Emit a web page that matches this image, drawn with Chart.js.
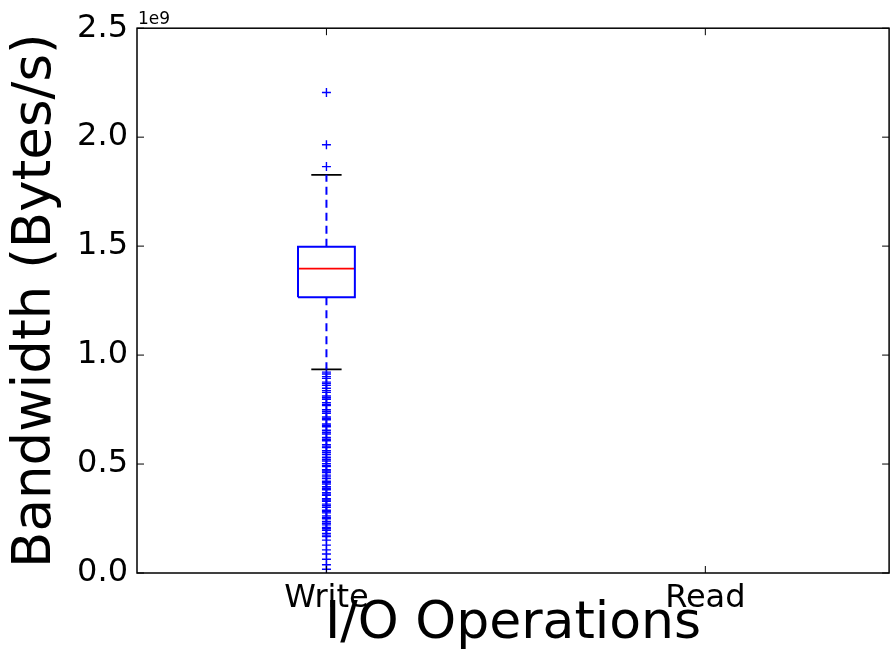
<!DOCTYPE html>
<html>
<head>
<meta charset="utf-8">
<script src="https://cdn.jsdelivr.net/npm/chart.js@4.4.1/dist/chart.umd.min.js"></script>
<style>
  html, body { margin: 0; padding: 0; background: #fff; }
  #wrap { width: 895px; height: 666px; }
</style>
</head>
<body>
<div id="wrap"><canvas id="boxChart"></canvas></div>
<script>
// categories and box statistics (Bytes/s)
const categories = ['Write', 'Read'];
const quartile1 = [1.265e9, null];
const medians = [1.397e9, null];
const quartile3 = [1.497e9, null];
const whiskerLow = [0.934e9, null];
const whiskerHigh = [1.827e9, null];
const writeOutliers = [
    2.205e9, 1.965e9, 1.865e9,
    0.922e9, 0.913e9, 0.901e9, 0.893e9, 0.876e9, 0.869e9, 0.861e9, 0.848e9, 0.837e9, 0.829e9,
    0.812e9, 0.804e9, 0.797e9, 0.781e9, 0.772e9, 0.768e9, 0.749e9, 0.741e9, 0.733e9, 0.716e9,
    0.709e9, 0.703e9, 0.684e9, 0.677e9, 0.671e9, 0.655e9, 0.646e9, 0.638e9, 0.622e9, 0.614e9,
    0.607e9, 0.589e9, 0.582e9, 0.576e9, 0.561e9, 0.553e9, 0.544e9, 0.531e9, 0.522e9, 0.514e9,
    0.502e9, 0.494e9, 0.488e9, 0.474e9, 0.468e9, 0.461e9, 0.449e9, 0.441e9, 0.433e9, 0.421e9,
    0.414e9, 0.408e9, 0.396e9, 0.389e9, 0.382e9, 0.368e9, 0.362e9, 0.357e9, 0.341e9, 0.335e9,
    0.329e9, 0.316e9, 0.309e9, 0.302e9, 0.288e9, 0.282e9, 0.276e9, 0.262e9, 0.255e9, 0.249e9,
    0.236e9, 0.228e9, 0.221e9, 0.209e9, 0.203e9, 0.196e9, 0.182e9, 0.174e9, 0.167e9, 0.151e9,
    0.128e9, 0.106e9, 0.087e9, 0.063e9, 0.038e9, 0.017e9
];
const readOutliers = [];
const yTicks = [0, 0.5e9, 1.0e9, 1.5e9, 2.0e9, 2.5e9];

const boxHalf = 0.075;
const capHalf = 0.04;

function buildDatasets() {
    const sets = [];
    categories.forEach((name, i) => {
        const x = i + 1;
        if (quartile1[i] !== null) {
            sets.push({
                label: name + ' box',
                data: [
                    {x: x - boxHalf, y: quartile1[i]}, {x: x + boxHalf, y: quartile1[i]},
                    {x: x + boxHalf, y: quartile3[i]}, {x: x - boxHalf, y: quartile3[i]},
                    {x: x - boxHalf, y: quartile1[i]}
                ],
                borderColor: '#0000ff', borderWidth: 2, pointRadius: 0
            });
            sets.push({
                label: name + ' median',
                data: [{x: x - boxHalf, y: medians[i]}, {x: x + boxHalf, y: medians[i]}],
                borderColor: '#ff0000', borderWidth: 1.8, pointRadius: 0
            });
            [[quartile3[i], whiskerHigh[i]], [quartile1[i], whiskerLow[i]]].forEach(([a, b]) => {
                sets.push({
                    label: name + ' whisker',
                    data: [{x: x, y: a}, {x: x, y: b}],
                    borderColor: '#0000ff', borderWidth: 2, borderDash: [8, 5], pointRadius: 0
                });
                sets.push({
                    label: name + ' cap',
                    data: [{x: x - capHalf, y: b}, {x: x + capHalf, y: b}],
                    borderColor: '#000000', borderWidth: 1.8, pointRadius: 0
                });
            });
        }
        const fliers = i === 0 ? writeOutliers : readOutliers;
        sets.push({
            label: name + ' fliers',
            data: fliers.map(v => ({x: x, y: v})),
            showLine: false,
            pointStyle: 'cross', pointRadius: 4.5,
            borderColor: '#0000ff', borderWidth: 1.4, backgroundColor: '#0000ff'
        });
    });
    return sets;
}

// frame, inward ticks and the 1e9 offset text
const framePlugin = {
    id: 'frame',
    afterDatasetsDraw(chart) {
        const {ctx, chartArea: a, scales} = chart;
        ctx.save();
        ctx.strokeStyle = '#000';
        ctx.lineWidth = 1.5;
        ctx.strokeRect(a.left, a.top, a.right - a.left, a.bottom - a.top);
        ctx.lineWidth = 1;
        ctx.beginPath();
        yTicks.forEach(v => {
            const py = scales.y.getPixelForValue(v);
            ctx.moveTo(a.left, py); ctx.lineTo(a.left + 7, py);
            ctx.moveTo(a.right, py); ctx.lineTo(a.right - 7, py);
        });
        categories.forEach((c, i) => {
            const px = scales.x.getPixelForValue(i + 1);
            ctx.moveTo(px, a.bottom); ctx.lineTo(px, a.bottom - 7);
            ctx.moveTo(px, a.top); ctx.lineTo(px, a.top + 7);
        });
        ctx.stroke();
        ctx.fillStyle = '#000';
        ctx.font = '17px "DejaVu Sans"';
        ctx.textAlign = 'left';
        ctx.textBaseline = 'alphabetic';
        ctx.fillText('1e9', a.left + 1, a.top - 4);
        ctx.restore();
    }
};

new Chart(document.getElementById('boxChart'), {
    type: 'scatter',
    data: { datasets: buildDatasets() },
    options: {
        responsive: true,
        maintainAspectRatio: false,
        animation: false,
        showLine: true,
        layout: { padding: { top: 27, right: -3 } },
        plugins: { legend: { display: false }, tooltip: { enabled: false } },
        scales: {
            x: {
                type: 'linear',
                min: 0.5,
                max: 2.485,
                afterFit(scale) { scale.height = 93; },
                afterBuildTicks(scale) { scale.ticks = categories.map((c, i) => ({value: i + 1})); },
                grid: { display: false, drawTicks: false },
                border: { display: false },
                ticks: {
                    padding: 6,
                    color: '#000',
                    font: { family: 'DejaVu Sans', size: 32 },
                    callback: v => categories[v - 1]
                },
                title: {
                    display: true,
                    text: 'I/O Operations',
                    color: '#000',
                    font: { family: 'DejaVu Sans', size: 52 },
                    padding: { top: 0, bottom: 10 }
                }
            },
            y: {
                min: 0,
                max: 2.5e9,
                afterFit(scale) { scale.width = 137; },
                afterBuildTicks(scale) { scale.ticks = yTicks.map(v => ({value: v})); },
                grid: { display: false, drawTicks: false },
                border: { display: false },
                ticks: {
                    padding: 9,
                    color: '#000',
                    font: { family: 'DejaVu Sans', size: 32 },
                    callback: v => (v / 1e9).toFixed(1)
                },
                title: {
                    display: true,
                    text: 'Bandwidth (Bytes/s)',
                    color: '#000',
                    font: { family: 'DejaVu Sans', size: 53 },
                    padding: { top: 4, bottom: 0 }
                }
            }
        }
    },
    plugins: [framePlugin]
});
</script>
</body>
</html>
